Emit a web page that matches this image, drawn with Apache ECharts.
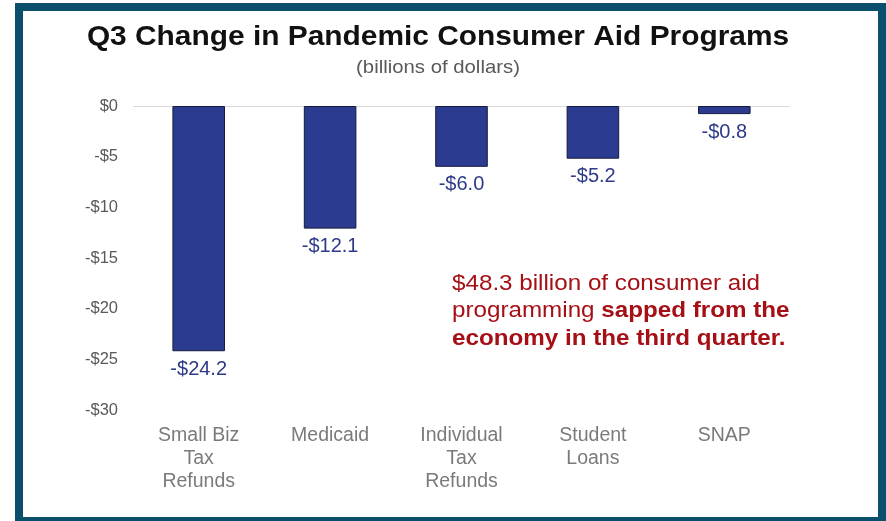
<!DOCTYPE html>
<html>
<head>
<meta charset="utf-8">
<script src="https://cdn.jsdelivr.net/npm/echarts@6/dist/echarts.min.js"></script>
<style>
  html, body { margin: 0; padding: 0; background: #fff; }
  #chart { width: 886px; height: 521px; }
</style>
</head>
<body>
<div id="chart"></div>
<script>
const categories = ['Small Biz\nTax\nRefunds', 'Medicaid', 'Individual\nTax\nRefunds', 'Student\nLoans', 'SNAP'];
const changes = [-24.2, -12.1, -6.0, -5.2, -0.8];
const yTicks = [0, -5, -10, -15, -20, -25, -30];

const font = 'Arial, "Liberation Sans", sans-serif';
const barBlue = '#2b3b8f';
const noteRed = '#a50f15';

function dollars(v, digits) {
  const s = '$' + Math.abs(v).toFixed(digits);
  return v < 0 ? '-' + s : s;
}

const option = {
  animation: false,
  backgroundColor: '#fff',
  grid: { left: 133, right: 96, top: 106, bottom: 111 },
  xAxis: {
    type: 'category',
    data: categories,
    position: 'top',
    axisLine: { show: false },
    axisTick: { show: false },
    axisLabel: { show: false },
  },
  yAxis: {
    type: 'value',
    min: -30,
    max: 0,
    interval: 5,
    splitLine: { show: false },
    axisLine: { show: false },
    axisTick: { show: false },
    axisLabel: {
      margin: 15,
      fontFamily: font,
      fontSize: 16.5,
      color: '#595959',
      formatter: (v) => (yTicks.includes(v) ? dollars(v, 0) : ''),
    },
  },
  series: [
    {
      type: 'bar',
      data: changes,
      barWidth: '40%',
      itemStyle: { color: barBlue, borderColor: '#141a3c', borderWidth: 1 },
      label: {
        show: true,
        position: 'bottom',
        distance: 8,
        fontFamily: font,
        fontSize: 20,
        color: '#2e3a87',
        formatter: (p) => dollars(p.value, 1),
      },
      markLine: {
        silent: true,
        symbol: 'none',
        label: { show: false },
        lineStyle: { color: '#d9d9d9', type: 'solid', width: 1 },
        data: [{ yAxis: 0 }],
        z: 0,
      },
    },
    {
      // category labels under the plot, hung from the -30 baseline
      type: 'scatter',
      data: categories.map(() => -30),
      symbolSize: 0,
      silent: true,
      label: {
        show: true,
        position: 'bottom',
        distance: 14,
        fontFamily: font,
        fontSize: 19.5,
        lineHeight: 23,
        color: '#595959',
        align: 'center',
        formatter: (p) => categories[p.dataIndex],
      },
    },
  ],
  graphic: [
    {
      type: 'rect',
      shape: { x: 19, y: 7, width: 863, height: 514 },
      style: { fill: 'none', stroke: '#0b4f6c', lineWidth: 8 },
      silent: true,
    },
    {
      type: 'text',
      x: 438,
      y: 37,
      scaleX: 1.067,
      style: {
        text: 'Q3 Change in Pandemic Consumer Aid Programs',
        fontFamily: font,
        fontSize: 28,
        fontWeight: 'bold',
        fill: '#111',
        textAlign: 'center',
        textVerticalAlign: 'middle',
      },
    },
    {
      type: 'text',
      x: 438,
      y: 68,
      scaleX: 1.07,
      style: {
        text: '(billions of dollars)',
        fontFamily: font,
        fontSize: 19,
        fill: '#595959',
        textAlign: 'center',
        textVerticalAlign: 'middle',
      },
    },
    {
      type: 'text',
      x: 452,
      y: 270,
      scaleX: 1.1,
      style: {
        text: '$48.3 billion of consumer aid\nprogramming {b|sapped from the}\n{b|economy in the third quarter.}',
        fontFamily: font,
        fontSize: 22,
        lineHeight: 27.5,
        fill: noteRed,
        rich: {
          b: { fontFamily: font, fontSize: 22, fontWeight: 'bold', fill: noteRed, lineHeight: 27.5 },
        },
      },
    },
  ],
};

const chart = echarts.init(document.getElementById('chart'));
chart.setOption(option);
</script>
</body>
</html>
